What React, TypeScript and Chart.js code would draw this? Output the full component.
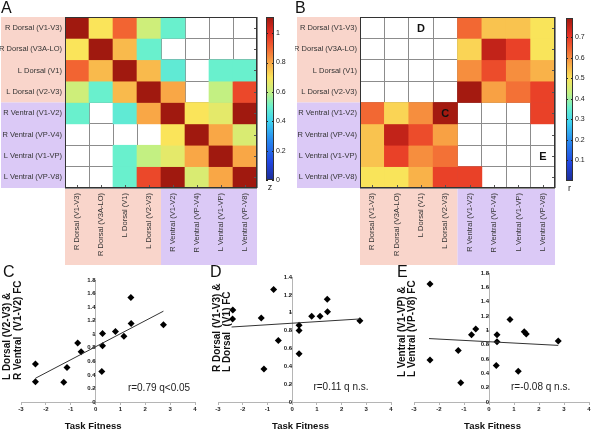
import React, { useEffect, useRef } from 'react';
import { Chart, registerables } from 'chart.js';

Chart.register(...registerables);

const FONT = '"Liberation Sans", Arial, Helvetica, sans-serif';
Chart.defaults.font.family = FONT;
Chart.defaults.color = '#222';

// ---------- data ----------
const REGIONS = [
  'R Dorsal (V1-V3)',
  'R Dorsal (V3A-LO)',
  'L Dorsal (V1)',
  'L Dorsal (V2-V3)',
  'R Ventral (V1-V2)',
  'R Ventral (VP-V4)',
  'L Ventral (V1-VP)',
  'L Ventral (VP-V8)',
];

const N = null;
const Z_MAX = 1.11;
const Z_TICKS = [0, 0.2, 0.4, 0.6, 0.8, 1];
const Z_VALUES: (number | null)[][] = [
  [1.11, 0.70, 0.90, 0.62, 0.50, N, N, N],
  [0.70, 1.11, 0.77, 0.50, N, N, N, N],
  [0.90, 0.77, 1.11, 0.77, 0.48, N, 0.50, 0.50],
  [0.62, 0.50, 0.77, 1.11, 0.80, N, 0.60, 0.95],
  [0.50, N, 0.48, 0.80, 1.11, 0.70, 0.66, 1.11],
  [N, N, N, N, 0.70, 1.11, 0.80, 0.64],
  [N, N, 0.50, 0.60, 0.66, 0.80, 1.11, 0.80],
  [N, N, 0.50, 0.95, 1.11, 0.64, 0.80, 1.11],
];

const R_MAX = 0.795;
const R_TICKS = [0.1, 0.2, 0.3, 0.4, 0.5, 0.6, 0.7];
const R_VALUES: (number | null)[][] = [
  [N, N, N, N, 0.64, 0.54, 0.54, 0.50],
  [N, N, N, N, 0.52, 0.755, 0.69, 0.50],
  [N, N, N, N, 0.60, 0.675, 0.60, 0.56],
  [N, N, N, N, 0.79, 0.58, 0.63, 0.69],
  [0.64, 0.52, 0.60, 0.79, N, N, N, 0.69],
  [0.54, 0.755, 0.675, 0.58, N, N, N, N],
  [0.54, 0.69, 0.60, 0.63, N, N, N, N],
  [0.50, 0.50, 0.56, 0.69, 0.69, N, N, N],
];
const B_MARKS = ['D', 'C', 'E'];
const B_MARK_ROWS = [0, 4, 6];
const B_MARK_COLS = [2, 3, 7];

const FITNESS_C = [-2.42, -2.42, -1.15, -1.28, -0.72, -0.58, 0.28, 0.28, 0.25, 0.80, 1.14, 1.43, 1.42, 2.73];
const FC_C = [0.56, 0.30, 0.51, 0.29, 0.87, 0.74, 1.01, 0.83, 0.45, 1.04, 0.97, 1.16, 1.54, 1.14];
const FIT_C_X = [-2.42, 2.73];
const FIT_C_Y = [0.35, 1.34];

const FITNESS_D = [-2.40, -2.41, -1.25, -1.14, -0.75, -0.56, 0.28, 0.28, 0.28, 0.79, 1.13, 1.42, 1.43, 2.74];
const FC_D = [1.03, 0.93, 0.94, 0.37, 1.26, 0.69, 0.86, 0.80, 0.54, 0.96, 0.96, 1.15, 1.01, 0.91];
const FIT_D_X = [-2.45, 2.74];
const FIT_D_Y = [0.84, 0.93];

const FITNESS_E = [-2.36, -2.36, -1.23, -1.13, -0.70, -0.53, 0.32, 0.32, 0.29, 0.84, 1.17, 1.41, 1.49, 2.77];
const FC_E = [1.645, 0.585, 0.72, 0.27, 0.94, 1.02, 0.94, 0.84, 0.51, 1.15, 0.43, 0.98, 0.95, 0.85];
const FIT_E_X = [-2.40, 2.77];
const FIT_E_Y = [0.885, 0.79];

// ---------- colour ----------
const CMAP_STOPS: [number, number[]][] = [
  [0.0, [30, 45, 150]],
  [0.11, [32, 70, 225]],
  [0.25, [40, 140, 240]],
  [0.36, [60, 210, 240]],
  [0.45, [105, 240, 205]],
  [0.54, [195, 240, 130]],
  [0.63, [250, 228, 90]],
  [0.72, [249, 168, 70]],
  [0.81, [242, 100, 50]],
  [0.9, [228, 45, 35]],
  [1.0, [160, 25, 15]],
];
const PINK = '#f9d5cb';
const PURPLE = '#dbc9f6';

function rgb(c: number[]) {
  return `rgb(${c[0]},${c[1]},${c[2]})`;
}
function colorAt(t: number) {
  t = Math.max(0, Math.min(1, t));
  for (let k = 1; k < CMAP_STOPS.length; k++) {
    const [t1, c1] = CMAP_STOPS[k];
    if (t <= t1) {
      const [t0, c0] = CMAP_STOPS[k - 1];
      const f = (t - t0) / (t1 - t0);
      return rgb(c0.map((v, i) => Math.round(v + (c1[i] - v) * f)));
    }
  }
  return rgb(CMAP_STOPS[CMAP_STOPS.length - 1][1]);
}

// ---------- heatmap ----------
function heatDecor(labelLeft: number, marks: string[] | null, markRows: number[], markCols: number[]) {
  return {
    id: 'heatDecor',
    beforeDraw(chart: any) {
      const { ctx, chartArea: a, scales } = chart;
      const y = scales.y;
      const x = scales.x;
      const ym = y.getPixelForValue(4);
      const xm = (x.getPixelForValue(3) + x.getPixelForValue(4)) / 2;
      ctx.save();
      ctx.fillStyle = PINK;
      ctx.fillRect(labelLeft, a.top, a.left - labelLeft, ym - a.top);
      ctx.fillRect(a.left, a.bottom, xm - a.left, 77);
      ctx.fillStyle = PURPLE;
      ctx.fillRect(labelLeft, ym, a.left - labelLeft, a.bottom - ym);
      ctx.fillRect(xm, a.bottom, a.right - xm, 77);
      ctx.restore();
    },
    afterDraw(chart: any) {
      const { ctx, chartArea: a, scales } = chart;
      const x = scales.x;
      const yl = scales.yl;
      ctx.save();
      ctx.strokeStyle = '#555';
      ctx.lineWidth = 1;
      for (let j = 0; j < REGIONS.length; j++) {
        const px = Math.round(x.getPixelForValue(j)) + 0.5;
        ctx.beginPath();
        ctx.moveTo(px, a.bottom);
        ctx.lineTo(px, a.bottom - 3);
        ctx.stroke();
        const py = Math.round(yl.getPixelForValue(j)) + 0.5;
        ctx.beginPath();
        ctx.moveTo(a.right, py);
        ctx.lineTo(a.right - 3, py);
        ctx.stroke();
      }
      ctx.strokeStyle = '#333';
      ctx.strokeRect(Math.round(a.left) + 0.5, Math.round(a.top) + 0.5, Math.round(a.right - a.left) - 1, Math.round(a.bottom - a.top) - 1);
      if (marks) {
        ctx.fillStyle = '#111';
        ctx.font = `bold 11px ${FONT}`;
        ctx.textAlign = 'center';
        ctx.textBaseline = 'middle';
        marks.forEach((m, k) => {
          ctx.fillText(m, x.getPixelForValue(markCols[k]), yl.getPixelForValue(markRows[k]) + 1);
        });
      }
      ctx.restore();
    },
  };
}

function heatmapConfig(values: (number | null)[][], vmax: number, labelLeft: number, marks: string[] | null): any {
  const datasets = values.map((row, i) => ({
    data: row.map((v) => (v == null ? null : [i, i + 1])),
    backgroundColor: row.map((v) => (v == null ? 'rgba(0,0,0,0)' : colorAt(v / vmax))),
    borderWidth: 0,
    grouped: false,
    barPercentage: 1,
    categoryPercentage: 1,
    xAxisID: 'x',
    yAxisID: 'y',
  }));
  const labelFont = { size: 7.5, family: FONT };
  return {
    type: 'bar',
    data: { labels: REGIONS, datasets },
    options: {
      responsive: false,
      animation: false,
      events: [],
      layout: { padding: { top: 17, right: 5, left: 0, bottom: 0 } },
      plugins: { legend: { display: false }, tooltip: { enabled: false } },
      scales: {
        x: {
          type: 'category',
          labels: REGIONS,
          offset: true,
          position: 'bottom',
          z: 1,
          grid: { offset: true, color: '#8c8c8c', lineWidth: 1, drawTicks: false },
          border: { display: false },
          ticks: { autoSkip: false, minRotation: 90, maxRotation: 90, font: labelFont, color: '#333', padding: 5 },
          afterFit: (s: any) => {
            s.height = 82;
          },
        },
        y: {
          type: 'linear',
          min: 0,
          max: 8,
          reverse: true,
          position: 'left',
          z: 1,
          grid: { color: '#8c8c8c', lineWidth: 1, drawTicks: false },
          border: { display: false },
          ticks: { display: false, stepSize: 1 },
          afterFit: (s: any) => {
            s.width = 0;
          },
        },
        yl: {
          type: 'category',
          labels: REGIONS,
          position: 'left',
          offset: true,
          grid: { display: false, drawTicks: false },
          border: { display: false },
          ticks: { font: labelFont, color: '#333', padding: 3 },
          afterFit: (s: any) => {
            s.width = 65;
          },
        },
      },
    },
    plugins: [heatDecor(labelLeft, marks, B_MARK_ROWS, B_MARK_COLS)],
  };
}

// ---------- colour bar ----------
const barTicks = {
  id: 'barTicks',
  afterDatasetsDraw(chart: any) {
    const { ctx, chartArea: a, scales } = chart;
    ctx.save();
    ctx.strokeStyle = '#222';
    ctx.lineWidth = 1;
    scales.y.ticks.forEach((t: any) => {
      const py = Math.round(scales.y.getPixelForValue(t.value)) + 0.5;
      ctx.beginPath();
      ctx.moveTo(a.right - 2, py);
      ctx.lineTo(a.right, py);
      ctx.moveTo(a.left, py);
      ctx.lineTo(a.left + 2, py);
      ctx.stroke();
    });
    ctx.strokeStyle = '#333';
    ctx.strokeRect(Math.round(a.left) + 0.5, Math.round(a.top) + 0.5, Math.round(a.right - a.left) - 1, Math.round(a.bottom - a.top) - 1);
    ctx.restore();
  },
};

function colorbarConfig(vmax: number, ticks: number[], title: string, padLeft: number, padTop: number, axisWidth: number): any {
  return {
    type: 'bar',
    data: {
      labels: [''],
      datasets: [
        {
          data: [[0, vmax]],
          backgroundColor: (ctx: any) => {
            const chart = ctx.chart;
            const a = chart.chartArea;
            if (!a) return '#fff';
            const g = chart.ctx.createLinearGradient(0, a.bottom, 0, a.top);
            CMAP_STOPS.forEach(([t, c]) => g.addColorStop(t, rgb(c)));
            return g;
          },
          borderWidth: 0,
          barPercentage: 1,
          categoryPercentage: 1,
        },
      ],
    },
    options: {
      responsive: false,
      animation: false,
      events: [],
      layout: { padding: { left: padLeft, top: padTop, right: 0, bottom: 0 } },
      plugins: { legend: { display: false }, tooltip: { enabled: false } },
      scales: {
        x: {
          grid: { display: false },
          border: { display: false },
          ticks: { display: false },
          title: { display: true, text: title, font: { size: 9, family: FONT }, color: '#222', padding: { top: 0, bottom: 2 } },
          afterFit: (s: any) => {
            s.height = 15;
          },
        },
        y: {
          position: 'right',
          min: 0,
          max: vmax,
          afterBuildTicks: (s: any) => {
            s.ticks = ticks.map((v) => ({ value: v }));
          },
          grid: { drawOnChartArea: false, drawTicks: false },
          border: { display: false },
          ticks: {
            font: { size: 7, family: FONT },
            color: '#222',
            padding: 2,
            callback: (v: any) => String(Math.round(Number(v) * 10) / 10),
          },
          afterFit: (s: any) => {
            s.width = axisWidth;
          },
        },
      },
    },
    plugins: [barTicks],
  };
}

// ---------- scatter ----------
interface Decor {
  yTitle: string[];
  yTitleX: number[];
  yTitleStart: number;
  xTitleAt: number;
  note: string;
  noteAt: number[];
}

function scatterDecor(d: Decor) {
  return {
    id: 'scatterDecor',
    afterDraw(chart: any) {
      const { ctx, scales } = chart;
      const x = scales.x;
      const y = scales.y;
      ctx.save();
      ctx.fillStyle = '#111';
      ctx.font = `bold 10px ${FONT}`;
      ctx.textBaseline = 'middle';
      ctx.textAlign = 'left';
      d.yTitle.forEach((line, i) => {
        ctx.save();
        ctx.translate(d.yTitleX[i], d.yTitleStart);
        ctx.rotate(-Math.PI / 2);
        ctx.fillText(line, 0, 0);
        ctx.restore();
      });
      ctx.font = `bold 9.5px ${FONT}`;
      ctx.textAlign = 'center';
      ctx.fillText('Task Fitness', x.getPixelForValue(d.xTitleAt), 171.5);
      ctx.font = `10px ${FONT}`;
      ctx.textAlign = 'left';
      ctx.fillStyle = '#222';
      ctx.fillText(d.note, x.getPixelForValue(d.noteAt[0]), y.getPixelForValue(d.noteAt[1]));
      ctx.restore();
    },
  };
}

function scatterConfig(xs: number[], ys: number[], fitX: number[], fitY: number[], yMax: number, pad: any, decor: Decor): any {
  const tickFont = { size: 6, weight: 'bold' as const, family: FONT };
  return {
    type: 'scatter',
    data: {
      datasets: [
        {
          type: 'line',
          data: fitX.map((x, i) => ({ x, y: fitY[i] })),
          borderColor: '#333',
          borderWidth: 1,
          pointRadius: 0,
          fill: false,
        },
        {
          data: xs.map((x, i) => ({ x, y: ys[i] })),
          pointStyle: 'rectRot',
          pointRadius: 3.5,
          backgroundColor: '#000',
          borderColor: '#000',
          borderWidth: 0,
        },
      ],
    },
    options: {
      responsive: false,
      animation: false,
      events: [],
      layout: { padding: pad },
      plugins: { legend: { display: false }, tooltip: { enabled: false } },
      scales: {
        x: {
          type: 'linear',
          min: -3,
          max: 4,
          ticks: { stepSize: 1, font: tickFont, color: '#222', padding: 1 },
          grid: { drawOnChartArea: false, tickLength: 3, color: '#b5b5b5' },
          border: { color: '#b5b5b5' },
          afterFit: (s: any) => {
            s.height = 30;
          },
        },
        y: {
          type: 'linear',
          min: 0,
          max: yMax,
          position: { x: 0 },
          ticks: {
            stepSize: 0.2,
            font: tickFont,
            color: '#222',
            padding: 2,
            callback: (v: any) => String(Math.round(Number(v) * 10) / 10),
          },
          grid: { drawOnChartArea: false, tickLength: 3, color: '#b5b5b5' },
          border: { color: '#b5b5b5' },
        },
      },
    },
    plugins: [scatterDecor(decor)],
  };
}

// ---------- component ----------
const abs = (left: number, top: number, w: number, h: number): React.CSSProperties => ({
  position: 'absolute',
  left,
  top,
  width: w,
  height: h,
});

const letterStyle = (left: number, top: number): React.CSSProperties => ({
  position: 'absolute',
  left,
  top,
  fontFamily: FONT,
  fontSize: 16,
  lineHeight: '16px',
  color: '#111',
});

export default function App() {
  const hA = useRef<HTMLCanvasElement>(null);
  const cbA = useRef<HTMLCanvasElement>(null);
  const hB = useRef<HTMLCanvasElement>(null);
  const cbB = useRef<HTMLCanvasElement>(null);
  const sC = useRef<HTMLCanvasElement>(null);
  const sD = useRef<HTMLCanvasElement>(null);
  const sE = useRef<HTMLCanvasElement>(null);

  useEffect(() => {
    const charts: Chart[] = [];
    charts.push(new Chart(hA.current!, heatmapConfig(Z_VALUES, Z_MAX, 1, null)));
    charts.push(new Chart(hB.current!, heatmapConfig(R_VALUES, R_MAX, 2, B_MARKS)));
    charts.push(new Chart(cbA.current!, colorbarConfig(Z_MAX, Z_TICKS, 'z', 4, 17, 21)));
    charts.push(new Chart(cbB.current!, colorbarConfig(R_MAX, R_TICKS, 'r', 6, 18, 20)));
    charts.push(
      new Chart(
        sC.current!,
        scatterConfig(FITNESS_C, FC_C, FIT_C_X, FIT_C_Y, 1.8, { left: 21, right: 5, top: 25, bottom: 0 }, {
          yTitle: ['L Dorsal (V2-V3) &', 'R Ventral  (V1-V2) FC'],
          yTitleX: [7.5, 18],
          yTitleStart: 125,
          xTitleAt: -0.1,
          note: 'r=0.79 q<0.05',
          noteAt: [1.3, 0.2],
        })
      )
    );
    charts.push(
      new Chart(
        sD.current!,
        scatterConfig(FITNESS_D, FC_D, FIT_D_X, FIT_D_Y, 1.4, { left: 23, right: 2, top: 22, bottom: 0 }, {
          yTitle: ['R Dorsal (V1-V3) &', 'L Dorsal  (V1) FC'],
          yTitleX: [22, 32],
          yTitleStart: 117,
          xTitleAt: 0.34,
          note: 'r=0.11 q n.s.',
          noteAt: [0.86, 0.16],
        })
      )
    );
    charts.push(
      new Chart(
        sE.current!,
        scatterConfig(FITNESS_E, FC_E, FIT_E_X, FIT_E_Y, 1.8, { left: 24, right: 3, top: 18, bottom: 0 }, {
          yTitle: ['L Ventral (V1-VP) &', 'L Ventral (VP-V8) FC'],
          yTitleX: [12.5, 22.5],
          yTitleStart: 122,
          xTitleAt: 0.14,
          note: 'r=-0.08 q n.s.',
          noteAt: [0.88, 0.21],
        })
      )
    );
    return () => charts.forEach((c) => c.destroy());
  }, []);

  return (
    <div style={{ position: 'absolute', left: 0, top: 0, width: 593, height: 432, background: '#fff', overflow: 'hidden' }}>
      <canvas ref={hA} width={262} height={270} style={abs(0, 0, 262, 270)} />
      <canvas ref={cbA} width={33} height={195} style={abs(262, 0, 33, 195)} />
      <canvas ref={hB} width={265} height={270} style={abs(295, 0, 265, 270)} />
      <canvas ref={cbB} width={33} height={196} style={abs(560, 0, 33, 196)} />
      <canvas ref={sC} width={200} height={177} style={abs(0, 255, 200, 177)} />
      <canvas ref={sD} width={200} height={177} style={abs(195, 255, 200, 177)} />
      <canvas ref={sE} width={203} height={177} style={abs(390, 255, 203, 177)} />
      <div style={letterStyle(1, 0)}>A</div>
      <div style={letterStyle(295, 0)}>B</div>
      <div style={letterStyle(3, 264)}>C</div>
      <div style={letterStyle(210, 264)}>D</div>
      <div style={letterStyle(397, 264)}>E</div>
    </div>
  );
}
